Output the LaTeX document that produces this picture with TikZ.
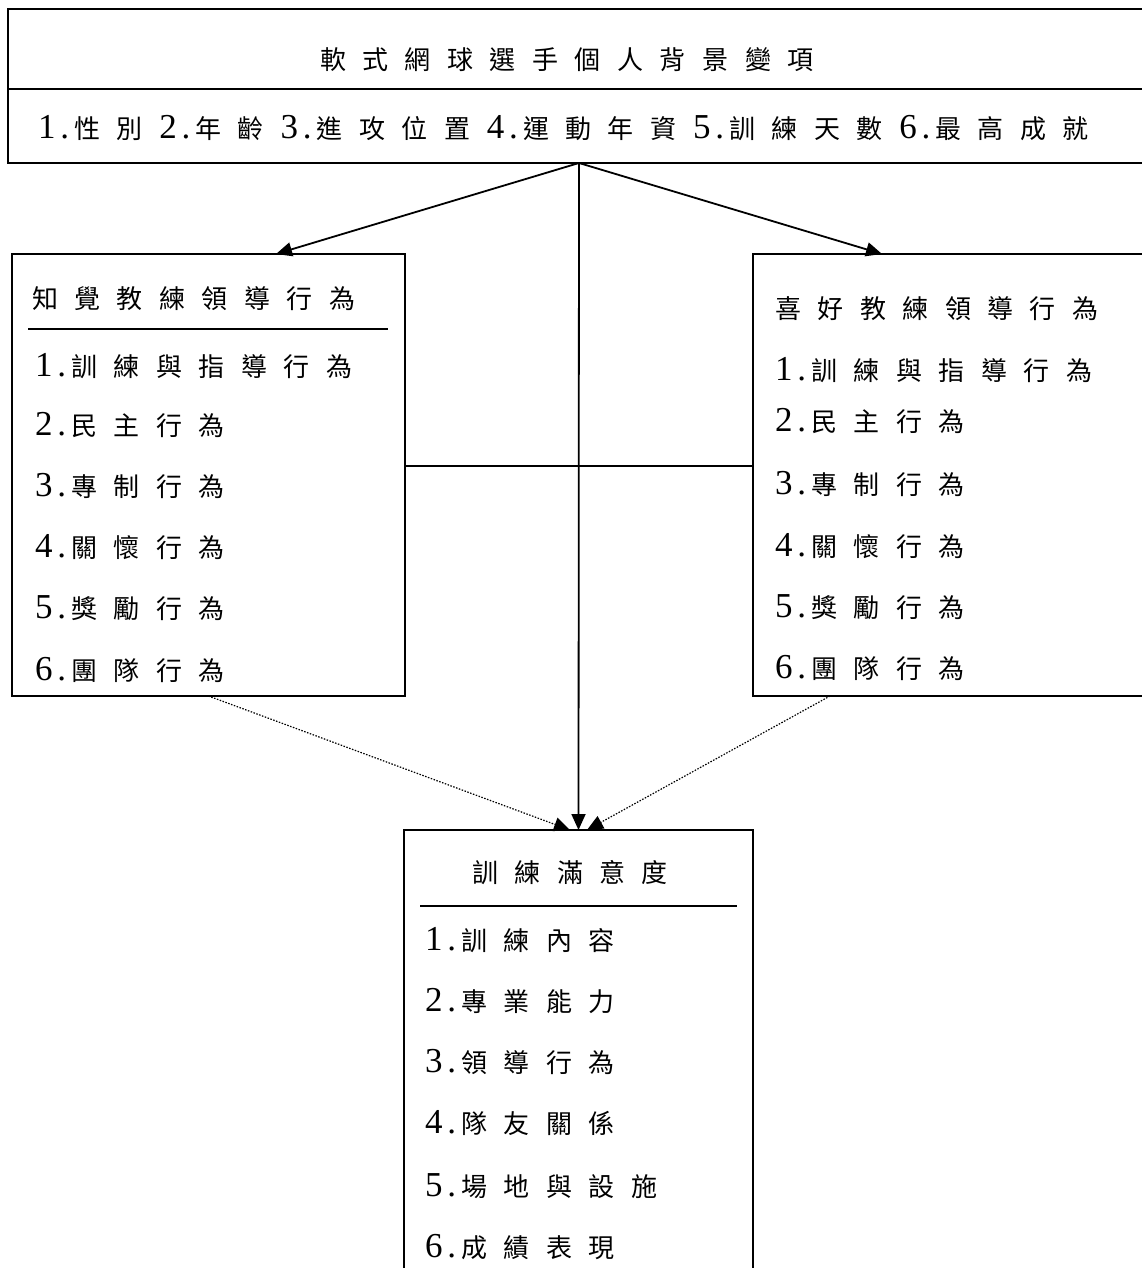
\documentclass[tikz,border=0pt]{standalone}
\usepackage{fontspec}
\setmainfont{Liberation Serif}
\newfontfamily\cjkf{Noto Sans CJK TC}
\usetikzlibrary{arrows.meta}
\makeatletter
\newcommand\spc[1]{\@tfor\zz:=#1\do{\ifnum\expandafter`\zz<128 {\fontsize{35}{40}\selectfont\zz}\hskip5pt\else{\cjkf\fontsize{26}{30}\selectfont\zz}\hskip16.5pt\fi}}
\makeatother
\tikzset{
  box/.style={draw, line width=1.8pt, inner sep=0pt, outer sep=0pt, anchor=north west},
  txt/.style={inner sep=0pt, outer sep=0pt, anchor=base west},
  conn/.style={line width=1.8pt},
  arr/.style={line width=1.8pt, -{Triangle[length=16pt,width=14pt]}},
  dotarr/.style={line width=1.2pt, dash pattern=on 1.5pt off 1.5pt, -{Triangle[length=16pt,width=14pt]}},
  rule/.style={line width=1.8pt}
}
\begin{document}
\begin{tikzpicture}[x=1pt,y=-1pt]
\useasboundingbox (0,0) rectangle (1142,1268);
% boxes
\node[box, minimum width=1142pt, minimum height=154pt] (top) at (8,9) {};
\node[box, minimum width=393pt, minimum height=442pt] (L) at (12,254) {};
\node[box, minimum width=400pt, minimum height=442pt] (R) at (753,254) {};
\node[box, minimum width=349pt, minimum height=450pt] (B) at (404,830) {};
% top box divider
\draw[rule] (top.west |- 0,89) -- (top.east |- 0,89);
% texts top
\node[txt] (t1) at (320,70) {\spc{軟式網球選手個人背景變項}};
\node[txt] (t2) at (38,139) {\spc{1.性別2.年齡3.進攻位置4.運動年資5.訓練天數6.最高成就}};
% left box
\node[txt] (l0) at (32,308) {\spc{知覺教練領導行為}};
\draw[rule] (28,329) -- (388,329);
\node[txt] (l1) at (35,376) {\spc{1.訓練與指導行為}};
\node[txt] (l2) at (35,435) {\spc{2.民主行為}};
\node[txt] (l3) at (35,496) {\spc{3.專制行為}};
\node[txt] (l4) at (35,557) {\spc{4.關懷行為}};
\node[txt] (l5) at (35,618) {\spc{5.獎勵行為}};
\node[txt] (l6) at (35,680) {\spc{6.團隊行為}};
% right box
\node[txt] (r0) at (775,318) {\spc{喜好教練領導行為}};
\node[txt] (r1) at (775,380) {\spc{1.訓練與指導行為}};
\node[txt] (r2) at (775,431) {\spc{2.民主行為}};
\node[txt] (r3) at (775,494) {\spc{3.專制行為}};
\node[txt] (r4) at (775,556) {\spc{4.關懷行為}};
\node[txt] (r5) at (775,617) {\spc{5.獎勵行為}};
\node[txt] (r6) at (775,678) {\spc{6.團隊行為}};
% bottom box
\node[txt] (b0) at (472,882) {\spc{訓練滿意度}};
\draw[rule] (420,906) -- (737,906);
\node[txt] (b1) at (425,950) {\spc{1.訓練內容}};
\node[txt] (b2) at (425,1011) {\spc{2.專業能力}};
\node[txt] (b3) at (425,1072) {\spc{3.領導行為}};
\node[txt] (b4) at (425,1133) {\spc{4.隊友關係}};
\node[txt] (b5) at (425,1196) {\spc{5.場地與設施}};
\node[txt] (b6) at (425,1257) {\spc{6.成績表現}};
% connectors
\coordinate (la) at (276,254);
\coordinate (ra) at (882,254);
\coordinate (h) at (0,466);
\coordinate (ld) at (570,830);
\coordinate (rd) at (587,830);
\coordinate (rs) at (830,696);
\draw[arr] (top.south) -- (la);
\draw[arr] (top.south) -- (ra);
\draw[arr] (top.south) -- (B.north);
\draw[conn] (L.east |- h) -- (R.west |- h);
\draw[dotarr] (L.south) -- (ld);
\draw[dotarr] (rs) -- (rd);
\end{tikzpicture}
\end{document}
